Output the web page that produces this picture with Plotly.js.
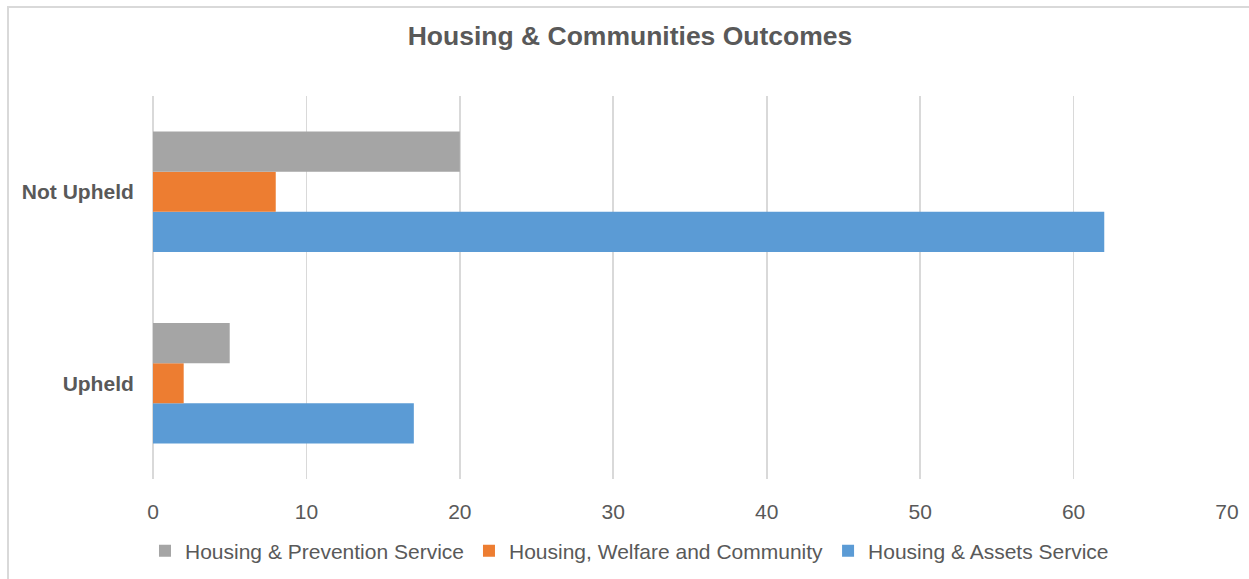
<!DOCTYPE html>
<html>
<head>
<meta charset="utf-8">
<script src="https://cdn.plot.ly/plotly-3.0.1.min.js"></script>
<style>
  html, body { margin: 0; padding: 0; background: #fff; }
  #frame { position: absolute; left: 7px; top: 6px; width: 1260px; height: 600px; border: 2px solid #d9d9d9; box-sizing: border-box; pointer-events: none; z-index: 5; }
  #chart { width: 1249px; height: 579px; }
</style>
</head>
<body>
<div id="frame"></div>
<div id="chart"></div>
<script>
const categories = ['Upheld', 'Not Upheld'];
const preventionService = [5, 20];
const welfareCommunity = [2, 8];
const assetsService = [17, 62];
const xTicks = [0, 10, 20, 30, 40, 50, 60, 70];

const font = 'Liberation Sans, Arial, sans-serif';
const textColor = '#595959';

const traces = [
  { type: 'bar', orientation: 'h', name: 'Housing & Assets Service', y: categories, x: assetsService, marker: { color: '#5B9BD5' }, hoverinfo: 'x+name' },
  { type: 'bar', orientation: 'h', name: 'Housing, Welfare and Community', y: categories, x: welfareCommunity, marker: { color: '#ED7D31' }, hoverinfo: 'x+name' },
  { type: 'bar', orientation: 'h', name: 'Housing & Prevention Service', y: categories, x: preventionService, marker: { color: '#A5A5A5' }, hoverinfo: 'x+name' }
];

const layout = {
  width: 1249, height: 579,
  margin: { l: 153, r: 22, t: 96, b: 100 },
  paper_bgcolor: '#fff', plot_bgcolor: '#fff',
  barmode: 'group', bargap: 0.372, bargroupgap: 0,
  font: { family: font, color: textColor, size: 21 },
  title: { text: '<b>Housing &amp; Communities Outcomes</b>', x: 0.5044, xanchor: 'center', y: 0.938, yanchor: 'middle', font: { family: font, size: 26.5, color: textColor } },
  xaxis: {
    range: [0, 70], tickvals: xTicks, ticktext: xTicks.map(String),
    showgrid: true, gridcolor: '#d9d9d9', gridwidth: 1.8,
    zeroline: true, zerolinecolor: '#d9d9d9', zerolinewidth: 1.8,
    showline: false, ticks: 'outside', ticklen: 14, tickcolor: 'rgba(0,0,0,0)',
    tickfont: { size: 21, color: textColor }, fixedrange: true, automargin: false
  },
  yaxis: {
    type: 'category', range: [-0.5, 1.5],
    showgrid: false, zeroline: false, showline: false,
    ticks: 'outside', ticklen: 14, tickcolor: 'rgba(0,0,0,0)',
    tickfont: { size: 21, color: textColor }, tickprefix: '<b>', ticksuffix: '</b>', fixedrange: true, automargin: false
  },
  legend: {
    orientation: 'h', traceorder: 'reversed',
    xref: 'container', yref: 'container',
    x: 0.504, xanchor: 'center', y: 0.048, yanchor: 'middle',
    font: { size: 21, color: textColor }, itemwidth: 30
  },
  showlegend: true
};

Plotly.newPlot('chart', traces, layout, { displayModeBar: false, staticPlot: true });
</script>
</body>
</html>
